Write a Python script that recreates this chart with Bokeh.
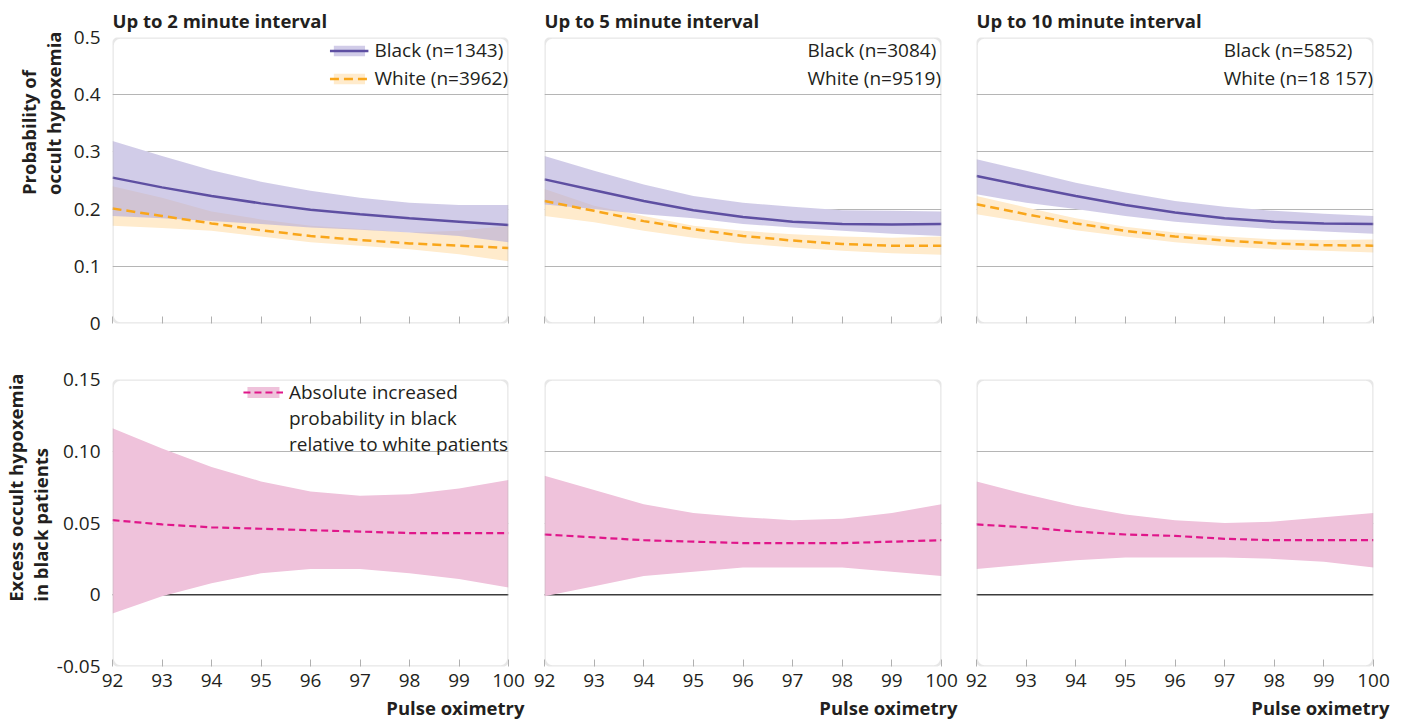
from bokeh.plotting import figure
from bokeh.layouts import column, row
from bokeh.models import (Legend, LegendItem, Span, BoxAnnotation, Title,
                          FixedTicker, Range1d)
from bokeh.embed import file_html
from bokeh.resources import INLINE

# ---------------- data ----------------
x_pulse = [92, 93, 94, 95, 96, 97, 98, 99, 100]
x_ticks = [92, 93, 94, 95, 96, 97, 98, 99, 100]

panel_titles = ["Up to 2 minute interval", "Up to 5 minute interval", "Up to 10 minute interval"]
black_labels = ["Black (n=1343)", "Black (n=3084)", "Black (n=5852)"]
white_labels = ["White (n=3962)", "White (n=9519)", "White (n=18 157)"]

# Up to 2 minute interval
black2_mid = [0.255, 0.238, 0.223, 0.210, 0.199, 0.191, 0.184, 0.178, 0.172]
black2_lo = [0.188, 0.184, 0.179, 0.174, 0.168, 0.164, 0.159, 0.153, 0.142]
black2_hi = [0.319, 0.293, 0.268, 0.248, 0.232, 0.220, 0.211, 0.207, 0.207]
white2_mid = [0.201, 0.188, 0.175, 0.163, 0.153, 0.146, 0.140, 0.136, 0.132]
white2_lo = [0.171, 0.167, 0.162, 0.152, 0.142, 0.136, 0.130, 0.121, 0.109]
white2_hi = [0.240, 0.220, 0.196, 0.182, 0.171, 0.165, 0.159, 0.162, 0.171]

# Up to 5 minute interval
black5_mid = [0.252, 0.233, 0.214, 0.198, 0.186, 0.178, 0.174, 0.173, 0.174]
black5_lo = [0.208, 0.200, 0.191, 0.184, 0.174, 0.168, 0.162, 0.157, 0.153]
black5_hi = [0.293, 0.267, 0.243, 0.223, 0.211, 0.204, 0.198, 0.197, 0.196]
white5_mid = [0.214, 0.197, 0.179, 0.165, 0.153, 0.145, 0.139, 0.136, 0.136]
white5_lo = [0.188, 0.177, 0.162, 0.150, 0.140, 0.133, 0.127, 0.123, 0.120]
white5_hi = [0.235, 0.206, 0.188, 0.171, 0.162, 0.156, 0.152, 0.150, 0.152]

# Up to 10 minute interval
black10_mid = [0.258, 0.240, 0.223, 0.207, 0.194, 0.184, 0.178, 0.175, 0.174]
black10_lo = [0.226, 0.211, 0.200, 0.188, 0.178, 0.171, 0.165, 0.161, 0.157]
black10_hi = [0.287, 0.267, 0.246, 0.229, 0.214, 0.204, 0.197, 0.192, 0.188]
white10_mid = [0.2085, 0.191, 0.175, 0.162, 0.152, 0.145, 0.140, 0.137, 0.136]
white10_lo = [0.191, 0.177, 0.163, 0.152, 0.142, 0.135, 0.130, 0.127, 0.124]
white10_hi = [0.223, 0.203, 0.184, 0.169, 0.159, 0.152, 0.147, 0.146, 0.147]

# Excess occult hypoxemia in black patients (difference)
diff2_mid = [0.052, 0.049, 0.047, 0.046, 0.045, 0.044, 0.043, 0.043, 0.043]
diff2_lo = [-0.013, -0.001, 0.008, 0.015, 0.018, 0.018, 0.015, 0.011, 0.005]
diff2_hi = [0.116, 0.102, 0.089, 0.079, 0.072, 0.069, 0.070, 0.074, 0.080]

diff5_mid = [0.042, 0.040, 0.038, 0.037, 0.036, 0.036, 0.036, 0.037, 0.038]
diff5_lo = [-0.001, 0.006, 0.013, 0.016, 0.019, 0.019, 0.019, 0.016, 0.013]
diff5_hi = [0.083, 0.073, 0.063, 0.057, 0.054, 0.052, 0.053, 0.057, 0.063]

diff10_mid = [0.049, 0.047, 0.044, 0.042, 0.041, 0.039, 0.038, 0.038, 0.038]
diff10_lo = [0.018, 0.021, 0.024, 0.026, 0.026, 0.026, 0.025, 0.023, 0.019]
diff10_hi = [0.079, 0.070, 0.062, 0.056, 0.052, 0.050, 0.051, 0.054, 0.057]

top_ticks = [0, 0.1, 0.2, 0.3, 0.4, 0.5]
top_tick_labels = ["0", "0.1", "0.2", "0.3", "0.4", "0.5"]
bot_ticks = [-0.05, 0, 0.05, 0.1, 0.15]
bot_tick_labels = ["-0.05", "0", "0.05", "0.10", "0.15"]

top_title = "Probability of\noccult hypoxemia"
bot_title = "Excess occult hypoxemia\nin black patients"
diff_label = ["Absolute increased", "probability in black", "relative to white patients"]
x_title = "Pulse oximetry"

# ---------------- style ----------------
FONT = "Open Sans"
TXT = "#231F20"
GRID = "#b5b5b5"
FRAME = "#b0b0b0"
PURPLE = "#5E4FA2"
PURPLE_BAND = "#B2AAD9"
ORANGE = "#F9A61A"
ORANGE_BAND = "#FFEBCC"
PINK = "#E0168A"
PINK_BAND = "#EFC2DB"
FS = "19px"
FSB = "18.5px"

col_w = [528, 432, 440]
col_left = [112, 16, 16]
col_right = [20, 19, 27]
top_h, bot_h = 350, 374


def base_fig(ci, height, yr, top_b, bottom_b):
    p = figure(width=col_w[ci], height=height, output_backend="svg",
               toolbar_location=None, x_range=Range1d(92, 100), y_range=yr,
               min_border_left=col_left[ci], min_border_right=col_right[ci],
               min_border_top=top_b, min_border_bottom=bottom_b)
    p.outline_line_color = None
    p.background_fill_color = "white"
    p.border_fill_color = "white"
    p.xgrid.visible = False
    p.ygrid.grid_line_color = GRID
    p.ygrid.grid_line_width = 1
    p.xaxis.ticker = FixedTicker(ticks=x_ticks)
    p.xaxis.axis_line_color = None
    p.xaxis.major_tick_in = 7
    p.xaxis.major_tick_out = 0
    p.xaxis.major_tick_line_color = FRAME
    p.xaxis.major_tick_line_width = 1
    p.xaxis.minor_tick_line_color = None
    p.xaxis.major_label_text_font = FONT
    p.xaxis.major_label_text_font_size = FS
    p.xaxis.major_label_text_color = TXT
    p.xaxis.major_label_standoff = 7
    p.yaxis.axis_line_color = None
    p.yaxis.major_tick_line_color = None
    p.yaxis.minor_tick_line_color = None
    p.yaxis.major_label_text_font = FONT
    p.yaxis.major_label_text_font_size = FS
    p.yaxis.major_label_text_color = TXT
    p.yaxis.major_label_standoff = 6
    if ci > 0:
        p.yaxis.visible = False
    return p


def frame_box(p, y0, y1):
    p.add_layout(BoxAnnotation(left=92, right=100, bottom=y0, top=y1,
                               fill_alpha=0, line_color=FRAME, line_width=2.6,
                               border_radius=8, level="overlay"))


def side_title(p, text, standoff):
    p.add_layout(Title(text=text, align="right", offset=-6, standoff=standoff,
                       text_font=FONT, text_font_size=FSB, text_font_style="bold",
                       text_color=TXT), "left")


top_data = [
    (black2_lo, black2_mid, black2_hi, white2_lo, white2_mid, white2_hi),
    (black5_lo, black5_mid, black5_hi, white5_lo, white5_mid, white5_hi),
    (black10_lo, black10_mid, black10_hi, white10_lo, white10_mid, white10_hi),
]
bot_data = [
    (diff2_lo, diff2_mid, diff2_hi),
    (diff5_lo, diff5_mid, diff5_hi),
    (diff10_lo, diff10_mid, diff10_hi),
]

top_figs = []
for ci in range(3):
    bl, bm, bh, wl, wm, wh = top_data[ci]
    p = base_fig(ci, top_h, Range1d(0, 0.5), 36, 27)
    p.yaxis.ticker = FixedTicker(ticks=top_ticks)
    p.ygrid.ticker = FixedTicker(ticks=top_ticks)
    p.yaxis.major_label_overrides = dict(zip(top_ticks, top_tick_labels))
    p.xaxis.major_label_overrides = {t: "" for t in x_ticks}
    p.xaxis.major_label_standoff = 0
    p.title.text = panel_titles[ci]
    p.title.text_font = FONT
    p.title.text_font_size = FSB
    p.title.text_font_style = "bold"
    p.title.text_color = TXT
    p.title.align = "left"
    p.title.standoff = 10
    p.title.offset = 0

    p.varea(x=x_pulse, y1=bl, y2=bh, fill_color="white", fill_alpha=1)
    wband = p.varea(x=x_pulse, y1=wl, y2=wh, fill_color=ORANGE_BAND, fill_alpha=1)
    bband = p.varea(x=x_pulse, y1=bl, y2=bh, fill_color=PURPLE_BAND, fill_alpha=0.6)
    wline = p.line(x=x_pulse, y=wm, line_color=ORANGE, line_width=2.5, line_dash="9 5")
    bline = p.line(x=x_pulse, y=bm, line_color=PURPLE, line_width=2.5)

    items = [LegendItem(label=black_labels[ci], renderers=[bband, bline]),
             LegendItem(label=white_labels[ci], renderers=[wband, wline])]
    gw = 39 if ci == 0 else 0
    gs = 6 if ci == 0 else 0
    leg = Legend(items=items, location="top_right", glyph_width=gw, glyph_height=13,
                 label_standoff=gs, spacing=2, padding=11, margin=0,
                 label_height=20, border_line_color=None, background_fill_alpha=0,
                 label_text_font=FONT, label_text_font_size=FS,
                 label_text_color=TXT)
    p.add_layout(leg, "center")
    frame_box(p, 0, 0.5)
    if ci == 0:
        side_title(p, top_title, 10)
    top_figs.append(p)

bot_figs = []
for ci in range(3):
    dl, dm, dh = bot_data[ci]
    p = base_fig(ci, bot_h, Range1d(-0.05, 0.15), 29, 58)
    p.yaxis.ticker = FixedTicker(ticks=bot_ticks)
    p.ygrid.ticker = FixedTicker(ticks=bot_ticks)
    p.yaxis.major_label_overrides = dict(zip(bot_ticks, bot_tick_labels))
    p.add_layout(Span(location=0, dimension="width", line_color="#3c3c3c",
                      line_width=1.5, level="underlay"))
    band = p.varea(x=x_pulse, y1=dl, y2=dh, fill_color=PINK_BAND, fill_alpha=1)
    dline = p.line(x=x_pulse, y=dm, line_color=PINK, line_width=2.2, line_dash="7 4")
    if ci == 0:
        d1 = p.line(x=[], y=[], line_alpha=0)
        d2 = p.line(x=[], y=[], line_alpha=0)
        items = [LegendItem(label=diff_label[0], renderers=[band, dline]),
                 LegendItem(label=diff_label[1], renderers=[d1]),
                 LegendItem(label=diff_label[2], renderers=[d2])]
        leg = Legend(items=items, location="top_right", glyph_width=40, glyph_height=14,
                     label_standoff=6, spacing=0, padding=9, margin=0,
                     label_height=21, border_line_color=None, background_fill_alpha=0,
                     label_text_font=FONT, label_text_font_size=FS,
                     label_text_color=TXT)
        p.add_layout(leg, "center")
        side_title(p, bot_title, 1)
    p.add_layout(Title(text=x_title, align="right", offset=-16, standoff=6,
                       text_font=FONT, text_font_size=FSB, text_font_style="bold",
                       text_color=TXT), "below")
    frame_box(p, -0.05, 0.15)
    bot_figs.append(p)

layout = column(row(*top_figs), row(*bot_figs))
open("out.html", "w").write(file_html(layout, INLINE))
